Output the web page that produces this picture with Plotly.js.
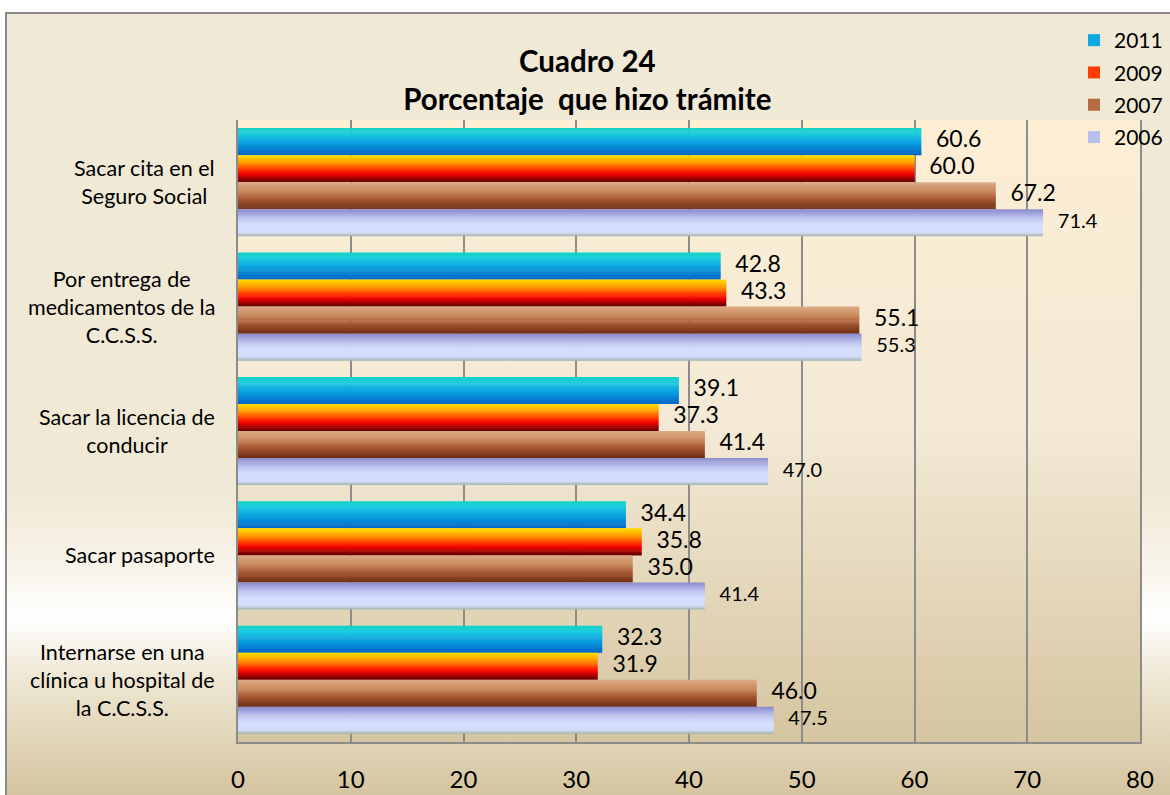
<!DOCTYPE html>
<html><head><meta charset="utf-8">
<script src="https://cdn.plot.ly/plotly-3.0.1.min.js"></script>
<style>
html,body{margin:0;padding:0;background:#fff;}
#wrap{position:relative;width:1170px;height:795px;overflow:hidden;}
#bg{position:absolute;left:5px;top:12px;width:1200px;height:800px;border:2px solid #8a8a8a;box-sizing:border-box;
background:linear-gradient(to bottom,#efe9d5 0px,#f0e9d6 480px,#f9f5ec 560px,#ffffff 602px,#ede5d0 670px,#d4c39e 785px);}
#chart{position:absolute;left:0;top:0;width:1170px;height:795px;}
</style></head>
<body>
<div id="wrap"><div id="bg"></div><div id="chart"></div></div>
<script>
// ---- data ----
var categories = [
  "Sacar cita en el<br>Seguro Social",
  "Por entrega de<br>medicamentos de la<br>C.C.S.S.",
  "Sacar la licencia de<br>conducir",
  "Sacar pasaporte",
  "Internarse en una<br>clínica u hospital de<br>la C.C.S.S."
];
var seriesNames = ["2011", "2009", "2007", "2006"];
var v2011 = [60.6, 42.8, 39.1, 34.4, 32.3];
var v2009 = [60.0, 43.3, 37.3, 35.8, 31.9];
var v2007 = [67.2, 55.1, 41.4, 35.0, 46.0];
var v2006 = [71.4, 55.3, 47.0, 41.4, 47.5];
var xTicks = [0, 10, 20, 30, 40, 50, 60, 70, 80];

// ---- styling ----
var FONT = 'Lato, "Open Sans", sans-serif';
var seriesValues = [v2011, v2009, v2007, v2006];
var gradients = [
  [[0,'#12d2c2'],[0.2,'#20cce0'],[0.55,'#0aa0e0'],[1,'#0064c6']],
  [[0,'#ffe000'],[0.3,'#ff9400'],[0.6,'#ff1e00'],[0.72,'#e80000'],[1,'#5c0000']],
  [[0,'#dcaa84'],[0.35,'#c8885c'],[0.65,'#a45230'],[1,'#6c2e14']],
  [[0,'#8a8ace'],[0.35,'#c2c8f0'],[0.6,'#d6deff'],[0.86,'#d4dcfa'],[1,'#9fb2aa']]
];
var legendColors = ['#10a8e0', '#ff3c00', '#b46c44', '#b8bfec'];
var labelSizes = [23, 23, 23, 20];

function hex2rgb(h){return [parseInt(h.substr(1,2),16),parseInt(h.substr(3,2),16),parseInt(h.substr(5,2),16)];}
function interp(stops,t){
  for(var i=0;i<stops.length-1;i++){
    var a=stops[i],b=stops[i+1];
    if(t<=b[0]){
      var f=(t-a[0])/(b[0]-a[0]||1),ca=hex2rgb(a[1]),cb=hex2rgb(b[1]);
      return 'rgb('+ca.map(function(c,k){return Math.round(c+(cb[k]-c)*f);}).join(',')+')';
    }
  }
  return stops[stops.length-1][1];
}

var pos = categories.map(function(c,i){return i;});
var GROUP = 0.87, BAR = GROUP/4, N = 26, SW = BAR/N;
var traces = [];
seriesValues.forEach(function(vals,k){
  for(var j=0;j<N;j++){
    traces.push({
      type:'bar', orientation:'h', x:vals, y:pos,
      width: (j<N-1? SW*1.6 : SW), offset: -GROUP/2 + k*BAR + j*SW,
      marker:{color: interp(gradients[k],(j+0.5)/N), line:{width:0}},
      name: seriesNames[k], legendgroup: seriesNames[k],
      showlegend:false, hoverinfo:'skip'
    });
  }
});
// legend entries
seriesValues.forEach(function(vals,k){
  traces.push({type:'bar', orientation:'h', x:[null], y:[null], name:seriesNames[k],
    legendgroup:seriesNames[k], marker:{color:legendColors[k]}, showlegend:true, hoverinfo:'skip'});
});
// data labels
seriesValues.forEach(function(vals,k){
  traces.push({
    type:'scatter', mode:'markers+text', x:vals,
    y: pos.map(function(i){return i - GROUP/2 + (k+0.5)*BAR;}),
    marker:{size:22, color:'rgba(0,0,0,0)'},
    text: vals.map(function(v){return v.toFixed(1);}),
    textposition:'middle right',
    textfont:{family:FONT, size:labelSizes[k], color:'#000'},
    showlegend:false, hoverinfo:'skip'
  });
});

var svg = '<svg xmlns="http://www.w3.org/2000/svg" width="100" height="100" preserveAspectRatio="none">'+
 '<defs><linearGradient id="g" x1="0" y1="0" x2="0" y2="1">'+
 '<stop offset="0" stop-color="#fdeed4"/><stop offset="0.5" stop-color="#f3e9d5"/>'+
 '<stop offset="1" stop-color="#d5c5a0"/></linearGradient></defs>'+
 '<rect width="100" height="100" fill="url(#g)"/></svg>';

var annotations = categories.map(function(c,i){
  return {text:c, xref:'paper', yref:'y', x:0, y:pos[i], xanchor:'right', yanchor:'middle',
    xshift:-21, align:'center', showarrow:false, font:{family:FONT, size:21.5, color:'#000'}};
});

var layout = {
  width:1170, height:795,
  paper_bgcolor:'rgba(0,0,0,0)', plot_bgcolor:'rgba(0,0,0,0)',
  margin:{l:238, r:30, t:120, b:53, autoexpand:false},
  barmode:'overlay',
  font:{family:FONT, color:'#000'},
  title:{text:'Cuadro 24<br>Porcentaje \u00a0que hizo trámite', x:0.502, xref:'container', y:1-72/795, yref:'container',
    yanchor:'middle', xanchor:'center', font:{family:FONT, size:29.5, weight:700, color:'#000'}},
  xaxis:{range:[0,80], tickvals:xTicks, showgrid:true, gridcolor:'#8c8c8c', gridwidth:2,
    showline:true, linecolor:'#8c8c8c', linewidth:2, zeroline:false, ticks:'', automargin:false,
    tickfont:{family:FONT, size:24, color:'#000'}, ticklabelstandoff:15, fixedrange:true},
  yaxis:{range:[4.5,-0.5], showticklabels:false, ticks:'', showgrid:false, zeroline:false, automargin:false,
    showline:true, mirror:true, linecolor:'#8c8c8c', linewidth:2, fixedrange:true},
  legend:{xref:'container', yref:'container', x:1074/1170, xanchor:'left', y:1-20/795, yanchor:'top', bgcolor:'rgba(0,0,0,0)',
    font:{family:FONT, size:21, color:'#000'}, traceorder:'grouped', tracegroupgap:2},
  images:[{source:'data:image/svg+xml;charset=utf-8,'+encodeURIComponent(svg), xref:'paper', yref:'paper',
    x:0, y:1, sizex:1, sizey:1, sizing:'stretch', xanchor:'left', yanchor:'top', layer:'below'}],
  annotations:annotations,
  showlegend:true
};
Plotly.newPlot('chart', traces, layout, {displayModeBar:false, staticPlot:true});
</script>
</body></html>
